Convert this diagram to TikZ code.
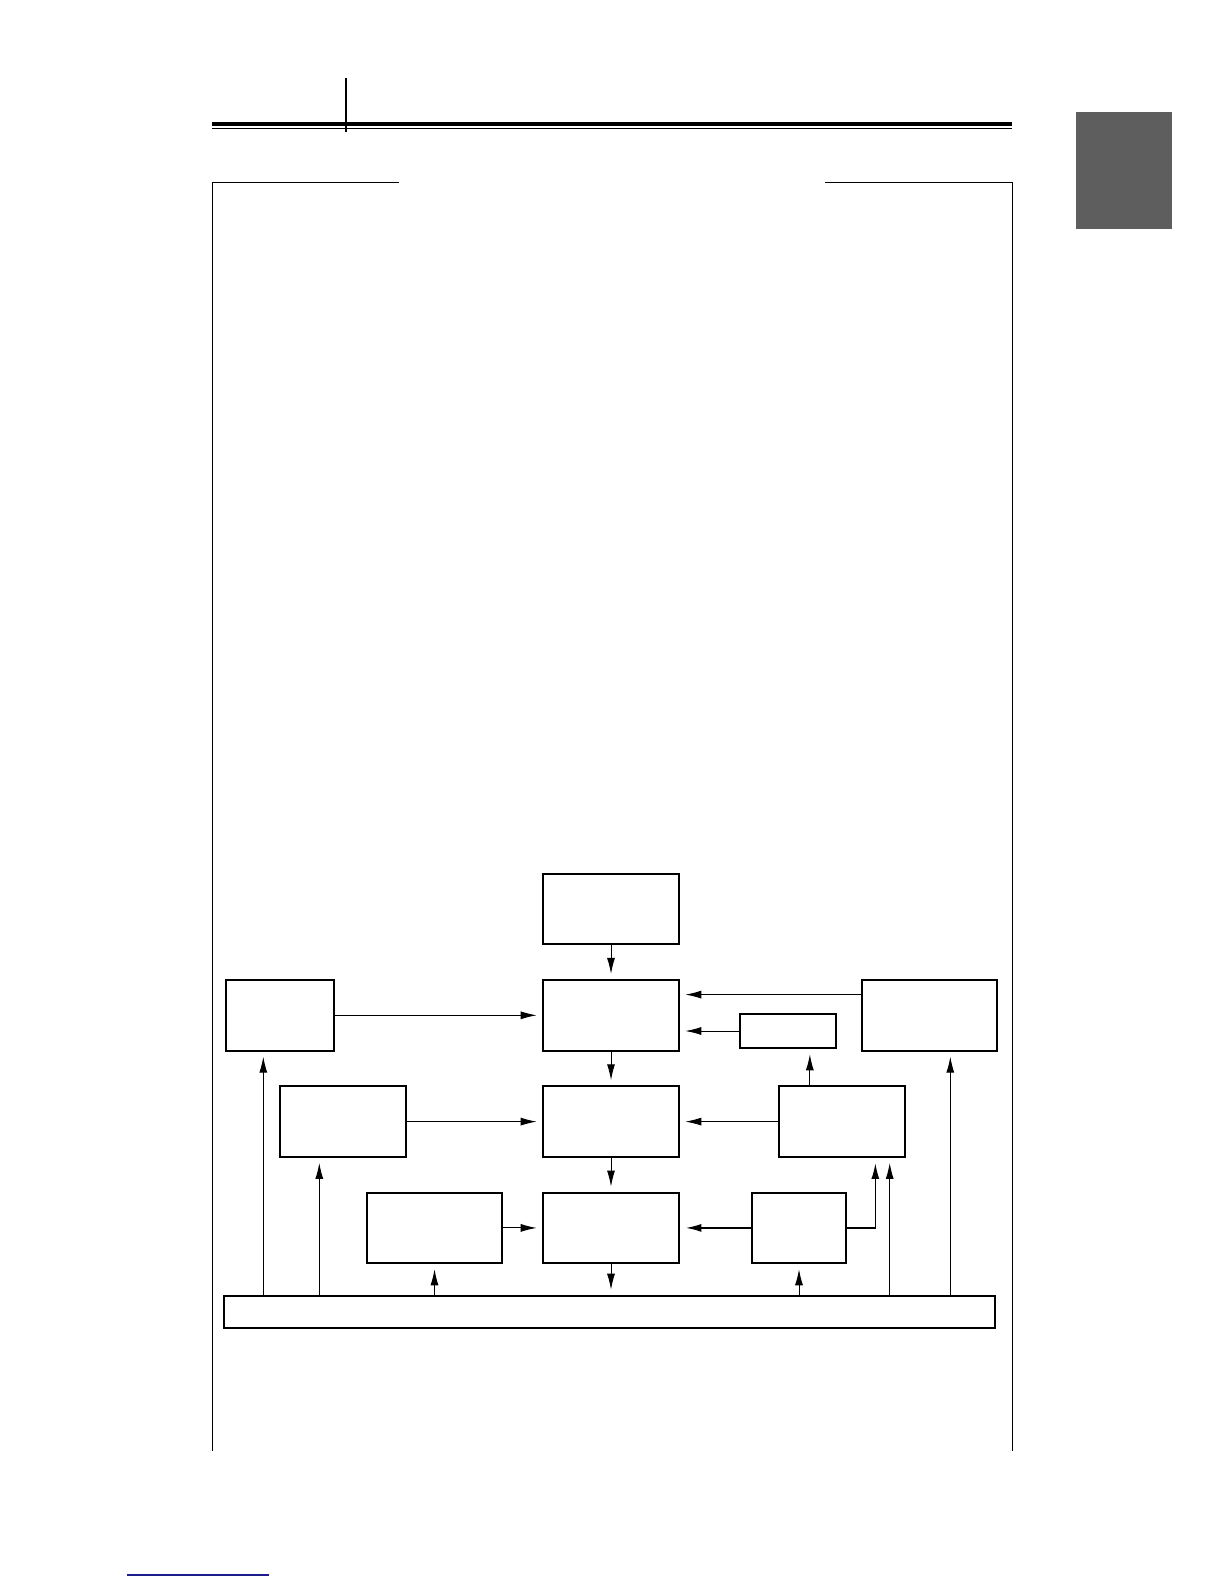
\documentclass[tikz,border=0pt]{standalone}
\usetikzlibrary{arrows,arrows.meta,positioning,calc}
\definecolor{tabgray}{HTML}{5E5E5E}
\definecolor{linkblue}{HTML}{1C1C8C}
\begin{document}
\begin{tikzpicture}[x=1pt,y=-1pt,node distance=106.3pt,on grid,
  >={Latex[length=16pt,width=8pt]},
  block/.style={draw,line width=2pt,inner sep=0pt,minimum width=136.6pt,minimum height=70.7pt},
  link/.style={->,line width=1pt,shorten >=5pt}]
\useasboundingbox (0,0) rectangle (1224,1584);
% page furniture
\draw[line width=3.5pt] (212,124) -- (1012,124);
\draw[line width=1.2pt] (212,128.8) -- (1012,128.8);
\draw[line width=2pt] (346,78) -- (346,132);
\fill[tabgray] (1076,112) rectangle (1172,229);
\draw[line width=1pt] (398.7,182.3) -- (212,182.3) -- (212,1451);
\draw[line width=1pt] (825,182.3) -- (1012.5,182.3) -- (1012.5,1451);
\draw[linkblue,line width=1.2pt] (127,1575) -- (269,1575);
% blocks
\node[block] (b_0) at (611,909) {};
\node[block] (m_1) [below=of b_0] {};
\node[block] (m_2) [below=of m_1] {};
\node[block] (m_3) [below=of m_2] {};
\node[block,minimum width=108pt] (l_1) [left=331.3pt of m_1] {};
\node[block,minimum width=126pt] (l_2) [left=267.7pt of m_2] {};
\node[block,minimum width=135.6pt] (l_3) [left=176.5pt of m_3] {};
\node[block,minimum width=135.6pt] (r_1) [right=318.5pt of m_1] {};
\node[block,minimum width=126.3pt] (r_2) [right=230.85pt of m_2] {};
\node[block,minimum width=94.6pt] (r_3) [right=188pt of m_3] {};
\node[block,minimum width=96.6pt,minimum height=34.6pt] (aux) at (788,1031) {};
\node[block,minimum width=770.7pt,minimum height=32.6pt] (bus) at (609.65,1312) {};
% taps
\coordinate (r_1o) at ([yshift=20.7pt]r_1.west);
\coordinate (r_2o) at ([xshift=-32pt]r_2.north);
\coordinate (r_2a) at ([xshift=33.5pt]r_2.south);
\coordinate (r_2b) at ([xshift=47.85pt]r_2.south);
\coordinate (r_1b) at ([xshift=20.8pt]r_1.south);
\coordinate (l_1b) at ([xshift=-16.4pt]l_1.south);
\coordinate (l_2b) at ([xshift=-24pt]l_2.south);
\path[link]
  (b_0) edge (m_1)
  (m_1) edge (m_2)
  (m_2) edge (m_3)
  (m_3.south) edge (m_3.south |- bus.north)
  (l_1) edge (m_1)
  (l_2) edge (m_2)
  (l_3) edge (m_3)
  (r_1o) edge (r_1o -| m_1.east)
  (aux) edge (aux -| m_1.east)
  (r_2) edge (m_2)
  (r_2o) edge (r_2o |- aux.south)
  (bus.north -| l_1b) edge (l_1b)
  (bus.north -| l_2b) edge (l_2b)
  (bus.north -| l_3.south) edge (l_3.south)
  (bus.north -| r_3.south) edge (r_3.south)
  (bus.north -| r_2b) edge (r_2b)
  (bus.north -| r_1b) edge (r_1b);
\draw[link,line width=2pt] (r_3) -- (m_3);
\draw[link,line width=1.6pt] (r_3.east) -| (r_2a);
\end{tikzpicture}
\end{document}
